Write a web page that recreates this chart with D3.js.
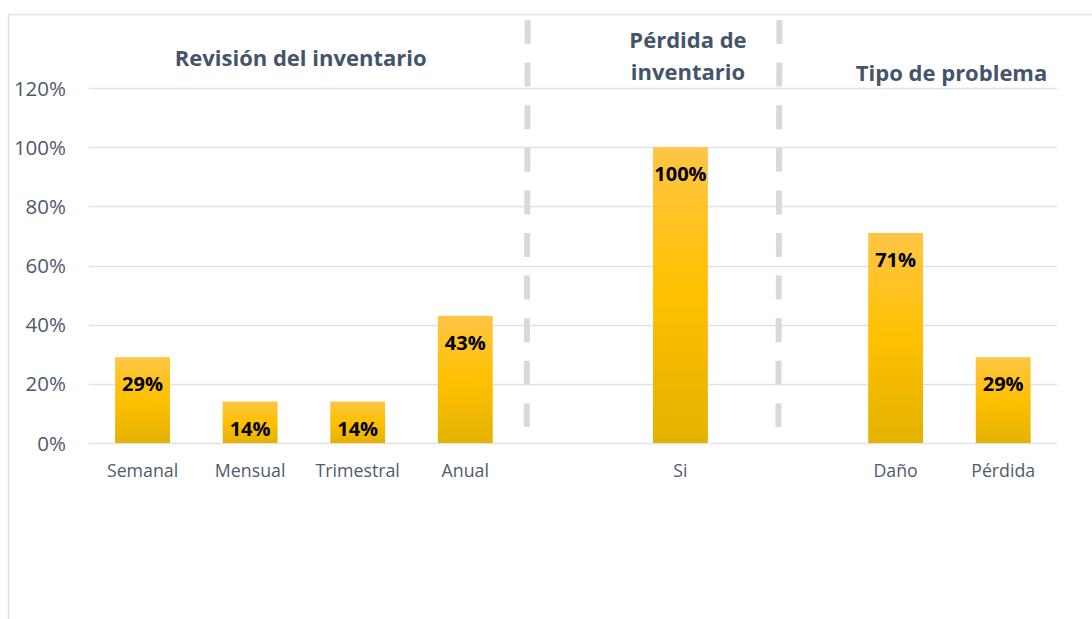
<!DOCTYPE html>
<html><head><meta charset="utf-8">
<script src="https://cdn.jsdelivr.net/npm/d3@7"></script>
<style>body{margin:0;background:#fff;}svg{display:block;}</style>
</head><body>
<svg id="c" width="1092" height="619"></svg>
<script>
const categories = ["Semanal","Mensual","Trimestral","Anual","",  "Si", "", "Daño","Pérdida"];
const values     = [0.29, 0.14, 0.14, 0.43, null, 1.00, null, 0.71, 0.29];
const dataLabels = ["29%","14%","14%","43%","","100%","","71%","29%"];
const yTicks = [0, 0.2, 0.4, 0.6, 0.8, 1.0, 1.2];
const groupTitles = [
  {lines:["Revisión del inventario"], pos:1.47, top:66},
  {lines:["Pérdida de","inventario"], pos:5.07, top:48},
  {lines:["Tipo de problema"], pos:7.52, top:81}
];
const separators = [3.58, 5.92]; // fractional category index positions

const svg = d3.select("#c");
const W = 1092, H = 619;
const m = {l:88.75, r:1057, t:88, b:443};
const font = "'Open Sans', sans-serif";

// frame
svg.append("path").attr("d", `M8.5,${H} L8.5,14.5 L${W},14.5`).attr("fill","none").attr("stroke","#dde1e6").attr("stroke-width",1.5);

const x = d3.scaleBand().domain(d3.range(categories.length)).range([m.l, m.r]).paddingInner(0.49).paddingOuter(0.245);
const y = d3.scaleLinear().domain([0,1.2]).range([m.b, m.t]);
const step = x.step();
const cx = i => m.l + step*(i+0.5);

// grid
svg.append("g").selectAll("line").data(yTicks).join("line")
  .attr("x1", m.l).attr("x2", m.r)
  .attr("y1", d=>Math.round(y(d))+0.5).attr("y2", d=>Math.round(y(d))+0.5)
  .attr("stroke","#dfe3e8").attr("stroke-width",1.5);

// y labels
svg.append("g").selectAll("text").data(yTicks).join("text")
  .attr("x", 66).attr("y", d=>y(d)+7.5)
  .attr("text-anchor","end").attr("font-family",font).attr("font-size",20.5)
  .attr("fill","#4f5b6d").text(d=>d3.format(".0%")(d));

// separators
svg.append("g").selectAll("line").data(separators).join("line")
  .attr("x1", d=>cx(d)).attr("x2", d=>cx(d)-1)
  .attr("y1", 20).attr("y2", 427)
  .attr("stroke","#d9d9d9").attr("stroke-width",6)
  .attr("stroke-dasharray","24 18.6");

// gradient
const defs = svg.append("defs");
const g = defs.append("linearGradient").attr("id","gold").attr("x1",0).attr("x2",0).attr("y1",0).attr("y2",1);
g.append("stop").attr("offset","0%").attr("stop-color","#ffc546");
g.append("stop").attr("offset","50%").attr("stop-color","#ffc000");
g.append("stop").attr("offset","100%").attr("stop-color","#e3b200");

const idx = d3.range(categories.length).filter(i=>values[i]!=null);
svg.append("g").selectAll("rect").data(idx).join("rect")
  .attr("x", i=>x(i)).attr("width", x.bandwidth())
  .attr("y", i=>y(values[i])).attr("height", i=>y(0)-y(values[i]))
  .attr("fill","url(#gold)");

// data labels
svg.append("g").selectAll("text").data(idx).join("text")
  .attr("x", i=>cx(i)).attr("y", i=>y(values[i])+34)
  .attr("text-anchor","middle").attr("font-family",font).attr("font-weight","bold")
  .attr("font-size",20).attr("fill","#000").text(i=>dataLabels[i]);

// category labels
svg.append("g").selectAll("text").data(idx).join("text")
  .attr("x", i=>cx(i)).attr("y", 477)
  .attr("text-anchor","middle").attr("font-family",font).attr("font-size",17.75)
  .attr("fill","#4f5b6d").text(i=>categories[i]);

// group titles
groupTitles.forEach(t=>{
  t.lines.forEach((ln,k)=>{
    svg.append("text").attr("x", cx(t.pos))
      .attr("y", t.top + k*32)
      .attr("text-anchor","middle").attr("font-family",font).attr("font-weight","bold")
      .attr("font-size",22).attr("fill","#44546a").text(ln);
  });
});
</script>
</body></html>
